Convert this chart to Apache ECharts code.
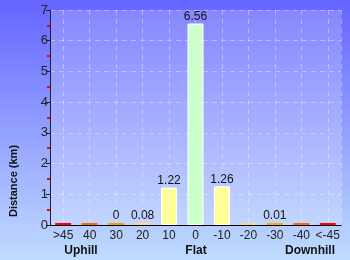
<!DOCTYPE html>
<html>
<head>
<meta charset="utf-8">
<script src="https://cdn.jsdelivr.net/npm/echarts@6/dist/echarts.min.js"></script>
<style>
  html, body { margin: 0; padding: 0; }
  #chart { width: 350px; height: 260px; }
</style>
</head>
<body>
<div id="chart"></div>
<script>
// gradient bands, steepest uphill on the left
const categories = [">45", "40", "30", "20", "10", "0", "-10", "-20", "-30", "-40", "<-45"];
const distances = [0, 0, 0, 0.08, 1.22, 6.56, 1.26, 0, 0.01, 0, 0];
const valueLabels = ["", "", "0", "0.08", "1.22", "6.56", "1.26", "", "0.01", "", ""];
const yTicks = [0, 1, 2, 3, 4, 5, 6, 7];
const groupNames = ["Uphill", "Flat", "Downhill"];

const barColors = ["#ff0000", "#ff6600", "#ff9900", "#ffd49a", "#ffff99", "#ccffcc",
  "#ffff99", "#ffd49a", "#ffaa00", "#ff6600", "#ff0000"];

const chart = echarts.init(document.getElementById("chart"));
const font = "Liberation Sans";

chart.setOption({
  animation: false,
  backgroundColor: {
    type: "linear", x: 0, y: 0, x2: 0, y2: 1,
    colorStops: [
      { offset: 0, color: "#6464ff" },
      { offset: 1, color: "#c0dcff" },
    ],
  },
  grid: {
    left: 50, right: 9, top: 10, bottom: 35,
    show: true,
    backgroundColor: "rgba(255,255,255,0.2)",
    borderWidth: 0,
  },
  xAxis: [
    {
      type: "category",
      data: categories,
      axisLine: { lineStyle: { color: "#000", width: 1 } },
      axisTick: { show: false },
      axisLabel: { color: "#222", fontFamily: font, fontSize: 12, margin: 5, interval: 0 },
      splitLine: { show: false },
    },
    {
      // finer hidden axis, only used for the dashed lines at category centres
      type: "category",
      data: categories.flatMap((c) => [c + "a", c + "b"]),
      position: "bottom",
      axisLine: { show: false },
      axisTick: { show: false },
      axisLabel: { show: false },
      splitLine: {
        show: true,
        interval: (i) => i % 2 === 1,
        lineStyle: { color: "rgba(255,255,255,0.35)", type: [5, 4] },
      },
    },
  ],
  yAxis: {
    type: "value",
    min: yTicks[0],
    max: yTicks[yTicks.length - 1],
    interval: 1,
    axisLine: { show: true, lineStyle: { color: "#222" } },
    axisTick: { show: true, length: 4, lineStyle: { color: "#222" } },
    minorTick: { show: true, splitNumber: 2, length: 3, lineStyle: { color: "#ff0000", width: 2 } },
    axisLabel: { color: "#222", fontFamily: font, fontSize: 13, margin: 2 },
    splitLine: { lineStyle: { color: "rgba(255,255,255,0.35)", type: [5, 4] } },
  },
  series: [
    {
      type: "bar",
      barWidth: 16,
      barMinHeight: 2,
      data: distances.map((v, i) => ({
        value: v,
        itemStyle: {
          color: barColors[i],
          borderColor: v > 0.5 ? "#ffffff" : barColors[i],
          borderWidth: v > 0.5 ? 1 : 0,
        },
      })),
      label: {
        show: true,
        position: "top",
        distance: 1,
        color: "#111",
        fontFamily: font,
        fontSize: 12,
        formatter: (p) => valueLabels[p.dataIndex],
      },
    },
  ],
  graphic: [
    {
      type: "text",
      x: 14, y: 181,
      rotation: Math.PI / 2,
      style: {
        text: "Distance (km)",
        font: "bold 11px " + font,
        fill: "#111",
        align: "center",
        verticalAlign: "middle",
        textShadowColor: "rgba(255,255,255,0.6)",
        textShadowOffsetX: 1,
        textShadowOffsetY: 1,
      },
    },
    ...groupNames.map((name, i) => ({
      type: "text",
      x: [81, 196, 310][i],
      y: 251,
      style: {
        text: name,
        font: "bold 12px " + font,
        fill: "#111",
        align: "center",
        verticalAlign: "middle",
        textShadowColor: "rgba(255,255,255,0.6)",
        textShadowOffsetX: 1,
        textShadowOffsetY: 1,
      },
    })),
  ],
});
</script>
</body>
</html>
